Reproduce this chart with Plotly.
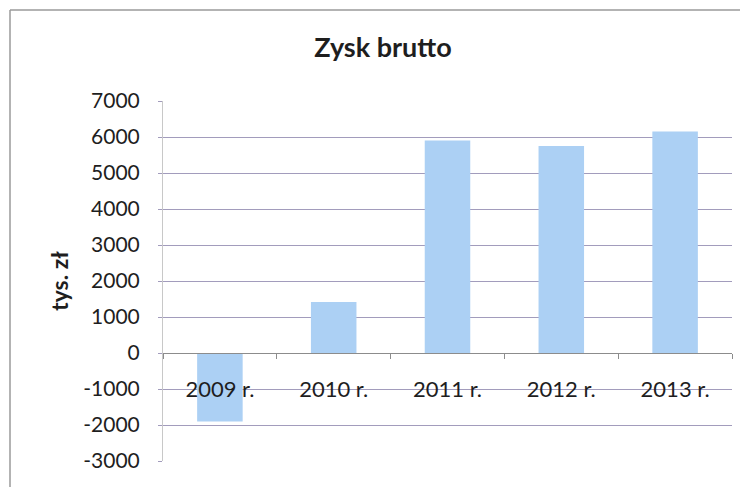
import plotly.graph_objects as go

categories = ["2009 r.", "2010 r.", "2011 r.", "2012 r.", "2013 r."]
values = [-1900, 1420, 5900, 5750, 6150]
y_ticks = [7000, 6000, 5000, 4000, 3000, 2000, 1000, 0, -1000, -2000, -3000]
y_tick_labels = ["7000", "6000", "5000", "4000", "3000", "2000", "1000", "0",
                 "-1000", "-2000", "-3000"]

# page has an 8px body margin, so the figure starts at (8, 8)
W, H = 740, 479
L, R, T, B = 155, 16, 93, 26
pw = W - L - R
ph = H - T - B

FONT = "Lato"
grid_col = "#a29cbc"
axis_col = "#8c8c8c"
text_col = "#1e1e1e"

fig = go.Figure(go.Bar(
    x=categories, y=values,
    marker=dict(color="#acd0f4", line=dict(width=0)),
    width=0.4,
))

fig.update_layout(
    width=W, height=H,
    margin=dict(l=L, r=R, t=T, b=B, autoexpand=False),
    paper_bgcolor="white", plot_bgcolor="white",
    showlegend=False,
    font=dict(family=FONT, color=text_col),
    title=dict(text="<b>Zysk brutto</b>", x=375 / W, xref="container",
               y=1 - 40 / H, yref="container", xanchor="center", yanchor="middle",
               font=dict(size=27, family=FONT, color=text_col)),
    xaxis=dict(
        anchor="free", position=0.3,
        showline=True, linecolor=axis_col, linewidth=1,
        ticks="outside", ticklen=5, tickcolor=axis_col, tickson="boundaries",
        ticklabelstandoff=17,
        tickfont=dict(size=22, family=FONT, color=text_col),
        showgrid=False,
    ),
    yaxis=dict(
        range=[-3000, 7000], tickvals=y_ticks, ticktext=y_tick_labels,
        showgrid=True, gridcolor=grid_col, gridwidth=1,
        zeroline=True, zerolinecolor=axis_col, zerolinewidth=1,
        showline=True, linecolor="#c8c8c8", linewidth=1,
        ticks="outside", ticklen=4, tickcolor=grid_col,
        ticklabelstandoff=14,
        tickfont=dict(size=21, family=FONT, color=text_col),
        title=dict(text="<b>tys. zł</b>", standoff=8,
                   font=dict(size=23, family=FONT, color=text_col)),
    ),
)

# outer chart frame (left and top edges)
fx0 = (2 - L) / pw
fy_top = 1 + (T - 2) / ph
fy_bot = -(B + 5) / ph
fig.add_shape(type="line", xref="paper", yref="paper", x0=fx0, x1=fx0,
              y0=fy_bot, y1=fy_top, line=dict(color="#9a9a9a", width=1.5))
fig.add_shape(type="line", xref="paper", yref="paper", x0=fx0, x1=(W - L) / pw,
              y0=fy_top, y1=fy_top, line=dict(color="#9a9a9a", width=1.5))

fig.write_html("out.html")
